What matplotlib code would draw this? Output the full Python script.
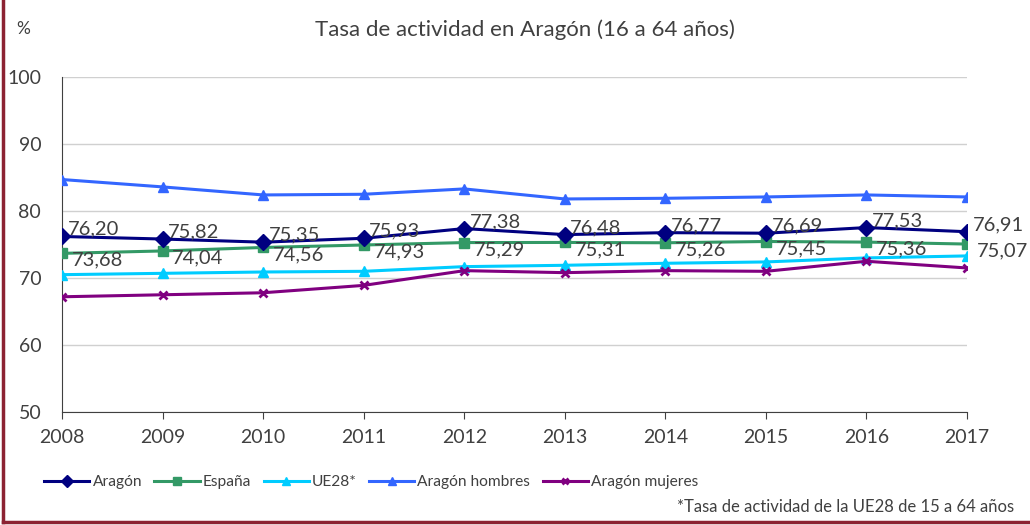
import matplotlib
matplotlib.use("Agg")
import matplotlib.pyplot as plt
from matplotlib.lines import Line2D

plt.rcParams['font.family'] = ['Lato', 'DejaVu Sans']

years = [2008, 2009, 2010, 2011, 2012, 2013, 2014, 2015, 2016, 2017]
aragon = [76.20, 75.82, 75.35, 75.93, 77.38, 76.48, 76.77, 76.69, 77.53, 76.91]
espana = [73.68, 74.04, 74.56, 74.93, 75.29, 75.31, 75.26, 75.45, 75.36, 75.07]
ue28 = [70.5, 70.7, 70.9, 71.0, 71.7, 71.9, 72.2, 72.4, 73.0, 73.3]
hombres = [84.7, 83.6, 82.4, 82.5, 83.3, 81.8, 81.9, 82.1, 82.4, 82.1]
mujeres = [67.2, 67.5, 67.8, 68.9, 71.1, 70.8, 71.1, 71.0, 72.5, 71.5]

txt = '#404040'

fig = plt.figure(figsize=(10.3, 5.25), dpi=100)
ax = fig.add_axes([0.0602, 0.2152, 0.8786, 0.6381])

ax.plot(years, aragon, color='#000080', marker='D', ms=8, lw=2.2, label='Aragón', zorder=5)
ax.plot(years, espana, color='#339966', marker='s', ms=7, lw=2.2, label='España', zorder=4)
ax.plot(years, ue28, color='#00CCFF', marker='^', ms=7, lw=2.2, label='UE28*', zorder=3)
ax.plot(years, hombres, color='#3366FF', marker='^', ms=7, lw=2.2, label='Aragón hombres', zorder=3)
ax.plot(years, mujeres, color='#800080', marker='x', ms=6, mew=2, lw=2.2, label='Aragón mujeres', zorder=3)

for x, y in zip(years, aragon):
    ax.annotate(f"{y:.2f}".replace('.', ','), (x, y), xytext=(4, -1), textcoords='offset points',
                ha='left', va='bottom', fontsize=14.5, color=txt, zorder=6)
for x, y in zip(years, espana):
    ax.annotate(f"{y:.2f}".replace('.', ','), (x, y), xytext=(7, -5), textcoords='offset points',
                ha='left', va='center', fontsize=14.5, color=txt, zorder=6)

ax.set_xlim(2008, 2017)
ax.set_ylim(50, 100)
ax.set_yticks([50, 60, 70, 80, 90, 100])
ax.set_xticks(years)
ax.grid(axis='y', color='#d0d0d0', lw=1)
ax.set_axisbelow(True)
for s in ['top', 'right']:
    ax.spines[s].set_visible(False)
for s in ['left', 'bottom']:
    ax.spines[s].set_color('#404040')
ax.tick_params(axis='y', length=0, pad=15, labelsize=14, labelcolor=txt)
ax.tick_params(axis='x', direction='out', length=5, color='#404040', pad=7, labelsize=14, labelcolor=txt)

fig.text(0.51, 0.944, 'Tasa de actividad en Aragón (16 a 64 años)', ha='center', va='center',
         fontsize=16, color=txt)
fig.text(0.016, 0.944, '%', ha='left', va='center', fontsize=12.5, color=txt)

ax.legend(loc='upper left', bbox_to_anchor=(-0.035, -0.147), ncol=5, frameon=False,
          fontsize=11.2, labelcolor=txt, handlelength=2.9, handletextpad=0.2, columnspacing=0.8,
          markerscale=0.8)

fig.text(0.985, 0.034, '*Tasa de actividad de la UE28 de 15 a 64 años', ha='right', va='center',
         fontsize=12, color=txt)

fig.add_artist(Line2D([0.003, 0.003], [0.005, 1], color='#8c2232', lw=2.5))
fig.add_artist(Line2D([0.003, 1], [0.005, 0.005], color='#8c2232', lw=2.5))

fig.savefig('out.png', dpi=100)
